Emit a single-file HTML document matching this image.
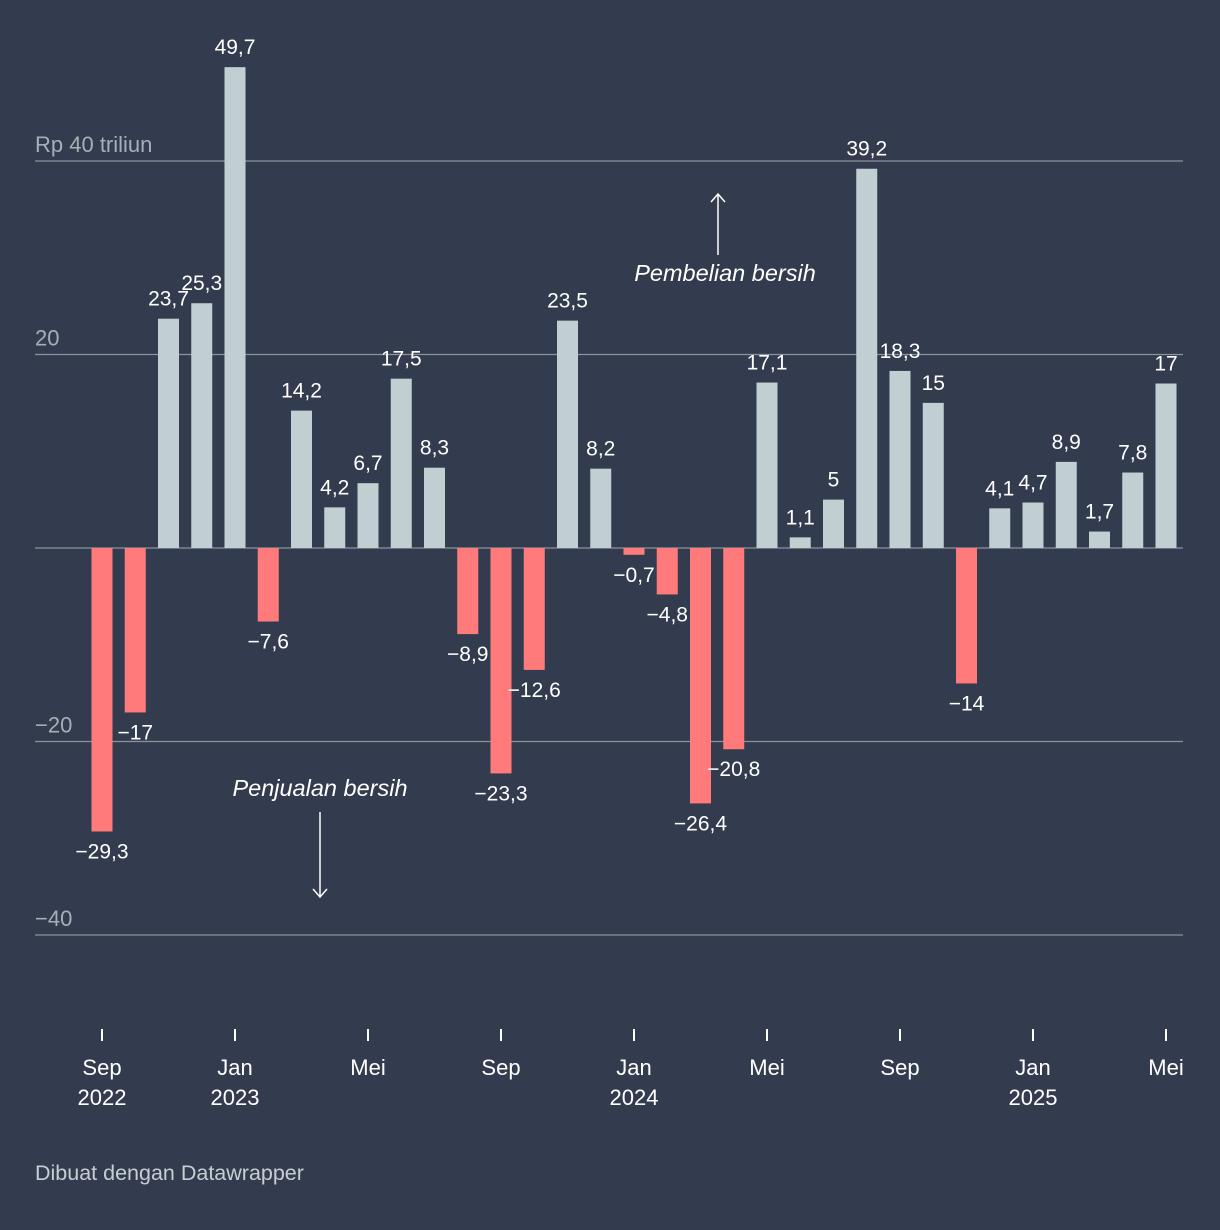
<!DOCTYPE html>
<html><head><meta charset="utf-8"><style>
html,body{margin:0;padding:0;background:#333c4e;}
svg{display:block;font-family:"Liberation Sans",sans-serif;}
</style></head><body>
<svg id="chart" width="1220" height="1230" viewBox="0 0 1220 1230">
<rect width="1220" height="1230" fill="#333c4e"/>
<g id="grid"></g><g id="bars"></g><g id="labels"></g><g id="xaxis"></g>
<g>
<line x1="718" y1="255" x2="718" y2="195" stroke="#fff" stroke-width="1.5"/>
<polyline points="711,202 718,194 725,202" fill="none" stroke="#fff" stroke-width="1.5"/>
<text x="725" y="281" fill="#fff" font-size="23.5" font-style="italic" text-anchor="middle">Pembelian bersih</text>
</g>
<g>
<text x="320" y="796" fill="#fff" font-size="23.5" font-style="italic" text-anchor="middle">Penjualan bersih</text>
<line x1="320" y1="812" x2="320" y2="896" stroke="#fff" stroke-width="1.5"/>
<polyline points="313,889 320,897 327,889" fill="none" stroke="#fff" stroke-width="1.5"/>
</g>
<text x="35" y="1180" fill="#c8cdd3" font-size="21.5">Dibuat dengan Datawrapper</text>
</svg>
<script>
const values=[-29.3,-17,23.7,25.3,49.7,-7.6,14.2,4.2,6.7,17.5,8.3,-8.9,-23.3,-12.6,23.5,8.2,-0.7,-4.8,-26.4,-20.8,17.1,1.1,5,39.2,18.3,15,-14,4.1,4.7,8.9,1.7,7.8,17];
const valueLabels=["−29,3","−17","23,7","25,3","49,7","−7,6","14,2","4,2","6,7","17,5","8,3","−8,9","−23,3","−12,6","23,5","8,2","−0,7","−4,8","−26,4","−20,8","17,1","1,1","5","39,2","18,3","15","−14","4,1","4,7","8,9","1,7","7,8","17"];
const yTicks=[40,20,-20,-40];
const yTickLabels=["Rp 40 triliun","20","−20","−40"];
const xTickIndex=[0,4,8,12,16,20,24,28,32];
const xTickLine1=["Sep","Jan","Mei","Sep","Jan","Mei","Sep","Jan","Mei"];
const xTickLine2=["2022","2023","","","2024","","","2025",""];
const NS="http://www.w3.org/2000/svg";
const y=v=>548-v*9.675;
const x=i=>102+i*33.25;
function mk(t,a,p){const e=document.createElementNS(NS,t);for(const k in a)e.setAttribute(k,a[k]);p.appendChild(e);return e;}
const grid=document.getElementById('grid');
yTicks.forEach((t,i)=>{
 const l=mk('line',{x1:35,x2:1183,y1:y(t),y2:y(t),stroke:'#8a929c','stroke-width':1.3},grid);
 
 
 const tx=mk('text',{x:35,y:y(t)-9,fill:'#a7aeb6','font-size':22},grid);
 tx.textContent=yTickLabels[i];
 
 
});
const zl=mk('line',{x1:35,x2:1183,y1:y(0),y2:y(0),stroke:'#8a929c','stroke-width':1.3},grid);


const bars=document.getElementById('bars'),labels=document.getElementById('labels');
values.forEach((v,i)=>{
 const r=mk('rect',{x:x(i)-10.5,width:21,y:Math.min(y(v),y(0)),height:Math.abs(y(v)-y(0)),fill:v<0?'#ff7b7b':'#c2cfd2'},bars);
 
 
 const t=mk('text',{x:x(i),y:v<0?y(v)+27:y(v)-13,fill:'#fff','font-size':21,'text-anchor':'middle'},labels);
 t.textContent=valueLabels[i];
 
 
});
const xa=document.getElementById('xaxis');
xTickIndex.forEach((idx,k)=>{
 const l=mk('line',{x1:x(idx),x2:x(idx),y1:1029,y2:1041,stroke:'#fff','stroke-width':2},xa);
 
 
 const t=mk('text',{x:x(idx),y:1075,fill:'#fff','font-size':22,'text-anchor':'middle'},xa);
 t.textContent=xTickLine1[k];
 
 
 if(xTickLine2[k]){const t2=mk('text',{x:x(idx),y:1105,fill:'#fff','font-size':22,'text-anchor':'middle'},xa);
 t2.textContent=xTickLine2[k];
 
 }
});
</script>
</body></html>
